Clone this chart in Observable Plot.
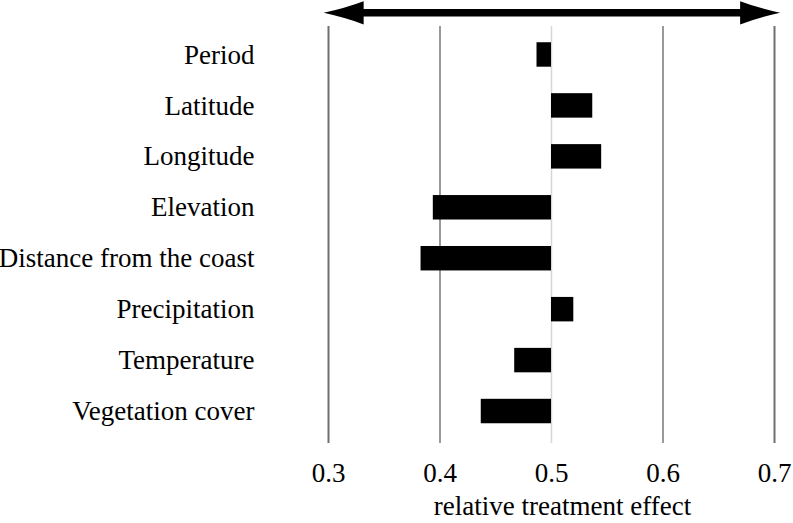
<!DOCTYPE html>
<html><head><meta charset="utf-8">
<script src="https://cdn.jsdelivr.net/npm/d3@7"></script>
<script src="https://cdn.jsdelivr.net/npm/@observablehq/plot@0.6"></script>
<style>html,body{margin:0;padding:0;background:#fff}</style>
</head><body><div id="chart"></div>
<script>
const variables = ["Period", "Latitude", "Longitude", "Elevation", "Distance from the coast", "Precipitation", "Temperature", "Vegetation cover"];
const effects = [0.487, 0.537, 0.545, 0.394, 0.383, 0.520, 0.467, 0.437];
const baseline = 0.5;
const xTicks = [0.3, 0.4, 0.5, 0.6, 0.7];
const xTickLabels = ["0.3", "0.4", "0.5", "0.6", "0.7"];
const xTitle = "relative treatment effect";
const arrowSpan = [0.2961, 0.7055];

const data = variables.map((v, i) => ({variable: v, effect: effects[i]}));

const arrowMark = (index, scales) => {
  const x = scales.x;
  const a = x(arrowSpan[0]), b = x(arrowSpan[1]);
  const y = 12.8, L = 40, H = 11.6, s = 3.8;
  const p = d3.path();
  p.moveTo(a, y);
  p.quadraticCurveTo(a + 0.55 * L, y - 0.42 * H, a + L, y - H);
  p.lineTo(a + L, y - s);
  p.lineTo(b - L, y - s);
  p.lineTo(b - L, y - H);
  p.quadraticCurveTo(b - 0.55 * L, y - 0.42 * H, b, y);
  p.quadraticCurveTo(b - 0.55 * L, y + 0.42 * H, b - L, y + H);
  p.lineTo(b - L, y + s);
  p.lineTo(a + L, y + s);
  p.lineTo(a + L, y + H);
  p.quadraticCurveTo(a + 0.55 * L, y + 0.42 * H, a, y);
  p.closePath();
  const g = d3.create("svg:g");
  g.append("path").attr("d", p.toString()).attr("fill", "black");
  return g.node();
};

const font = "'Liberation Serif', 'Times New Roman', serif";

const chart = Plot.plot({
  width: 793,
  height: 523,
  marginTop: 26,
  marginBottom: 80,
  marginLeft: 328,
  marginRight: 19,
  style: {fontFamily: font, fontSize: "27px", background: "white", color: "black"},
  x: {domain: [0.3, 0.7]},
  y: {domain: variables, range: [29, 436.5], paddingInner: 0.52, paddingOuter: 0.26, round: false},
  marks: [
    Plot.ruleX(xTicks, {filter: d => d === 0.3 || d === 0.7, stroke: "#6f6f6f", strokeWidth: 2}),
    Plot.ruleX(xTicks, {filter: d => d === 0.4 || d === 0.6, stroke: "#9a9a9a", strokeWidth: 2}),
    Plot.ruleX(xTicks, {filter: d => d === 0.5, stroke: "#d6d6d6", strokeWidth: 1.5}),
    Plot.barX(data, {x1: () => baseline, x2: "effect", y: "variable", fill: "black"}),
    Plot.axisY({tickSize: 0, tickPadding: 74, fontSize: 27, label: null}),
    Plot.axisX(xTicks, {tickSize: 0, tickPadding: 19, fontSize: 27, label: null,
      tickFormat: d => xTickLabels[xTicks.indexOf(d)]}),
    Plot.text([xTitle], {frameAnchor: "bottom", lineAnchor: "middle", dx: 11, dy: 63, fontSize: 27}),
    arrowMark
  ]
});
document.getElementById("chart").appendChild(chart);
</script>
</body></html>
